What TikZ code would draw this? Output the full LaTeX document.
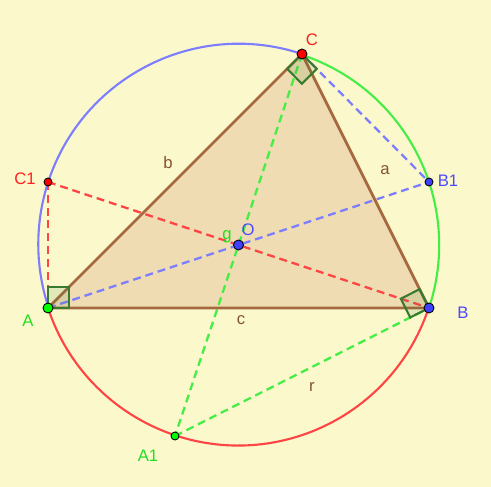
\documentclass[tikz,border=0pt]{standalone}
\usepackage{fontspec}
\setmainfont{Liberation Sans}
\usepackage{tikz}
\usetikzlibrary{calc}
\definecolor{ggBack}{HTML}{FBF8CC}
\definecolor{ggBrown}{HTML}{A5683F}
\definecolor{ggFill}{HTML}{EFDCB2}
\definecolor{ggRed}{HTML}{FF4444}
\definecolor{ggBlue}{HTML}{7D7DFF}
\definecolor{ggGreen}{HTML}{44EE44}
\definecolor{ggMark}{HTML}{3A7A2E}
\definecolor{ggTxtRed}{HTML}{FF2020}
\definecolor{ggTxtBlue}{HTML}{4B4BFF}
\definecolor{ggTxtGreen}{HTML}{22DD22}

\begin{document}
\begin{tikzpicture}[x=0.02cm, y=0.02cm, font=\fontsize{9.5}{11}\selectfont,
  pt/.style={circle, draw=black, line width=0.5pt, inner sep=0pt, minimum size=0.2cm},
  ptsmall/.style={pt, minimum size=0.16cm},
  side/.style={ggBrown, line width=1.6pt},
  dsh/.style={line width=1.3pt, dash pattern=on 4.5pt off 2.8pt},
  arcline/.style={line width=1.2pt},
  rmark/.style={draw=ggMark, line width=1.2pt, fill=ggMark, fill opacity=0.12},
  lbl/.style={inner sep=0pt}]
% background and frame of the picture
\fill[ggBack] (0,0) rectangle (491,487);
\useasboundingbox (0,0) rectangle (491,487);
% the points
\coordinate (O)  at (238.5,242);
\coordinate (A)  at (48,179);
\coordinate (B)  at (429,179);
\coordinate (C)  at (302,433);
\coordinate (C1) at (48,305);
\coordinate (B1) at (429,305);
\coordinate (A1) at (175,51);
% triangle
\fill[ggFill] (A) -- (B) -- (C) -- cycle;
% circumcircle in three arcs
\draw[ggBlue, arcline]  (C) arc[start angle=71.6, end angle=198.3, radius=4.01cm];
\draw[ggRed, arcline]   (A) arc[start angle=198.3, end angle=341.7, radius=4.01cm];
\draw[ggGreen, arcline] (B) arc[start angle=-18.3, end angle=71.6, radius=4.01cm];
% dashed lines through the antipodes
\draw[ggRed, dsh]   (C1) -- (B); \draw[ggRed, dsh]   (C1) -- (A);
\draw[ggBlue, dsh]  (A) -- (B1);  \draw[ggBlue, dsh]  (C) -- (B1);
\draw[ggGreen, dsh] (C) -- (A1);  \draw[ggGreen, dsh] (A1) -- (B);
% sides
\draw[side] (A) -- (B) -- (C) -- cycle;
% right angles
\draw[rmark] (A) -- ($(A)!0.42cm!(B)$) -- ($(A)!0.42cm!(B)+(A)!0.42cm!(C1)-(A)$) -- ($(A)!0.42cm!(C1)$) -- cycle;
\draw[rmark] (C) -- ($(C)!0.42cm!(A)$) -- ($(C)!0.42cm!(A)+(C)!0.42cm!(B1)-(C)$) -- ($(C)!0.42cm!(B1)$) -- cycle;
\draw[rmark] (B) -- ($(B)!0.42cm!(C)$) -- ($(B)!0.42cm!(C)+(B)!0.42cm!(A1)-(B)$) -- ($(B)!0.42cm!(A1)$) -- cycle;
% dots
\node[ptsmall, fill=red]       (C1 dot) at (C1) {};
\node[ptsmall, fill=blue!75]   (B1 dot) at (B1) {};
\node[ptsmall, fill=green]     (A1 dot) at (A1) {};
\node[pt, fill=blue!75]        (O dot)  at (O)  {};
\node[pt, fill=green]          (A dot)  at (A)  {};
\node[pt, fill=blue!75]        (B dot)  at (B)  {};
\node[pt, fill=red]            (C dot)  at (C)  {};
% labels
\node[lbl, ggTxtRed]   (C lbl)  at (312,447) {C};
\node[lbl, ggTxtGreen] (A lbl)  at (28,166)  {A};
\node[lbl, ggTxtBlue]  (B lbl)  at (463,174) {B};
\node[lbl, ggTxtRed]   (C1 lbl) at (25,308)  {C1};
\node[lbl, ggTxtBlue]  (B1 lbl) at (448,306) {B1};
\node[lbl, ggTxtGreen] (A1 lbl) at (148,31)  {A1};
\node[lbl, ggTxtBlue]  (O lbl)  at (248,257) {O};
\node[lbl, ggTxtGreen] (g lbl)  at (227,250) {g};
\node[lbl, ggBrown!80!black] (b lbl) at (168,324) {b};
\node[lbl, ggBrown!80!black] (a lbl) at (385,317) {a};
\node[lbl, ggBrown!80!black] (c lbl) at (241,167) {c};
\node[lbl, ggBrown!80!black] (r lbl) at (312,100) {r};
\end{tikzpicture}
\end{document}
